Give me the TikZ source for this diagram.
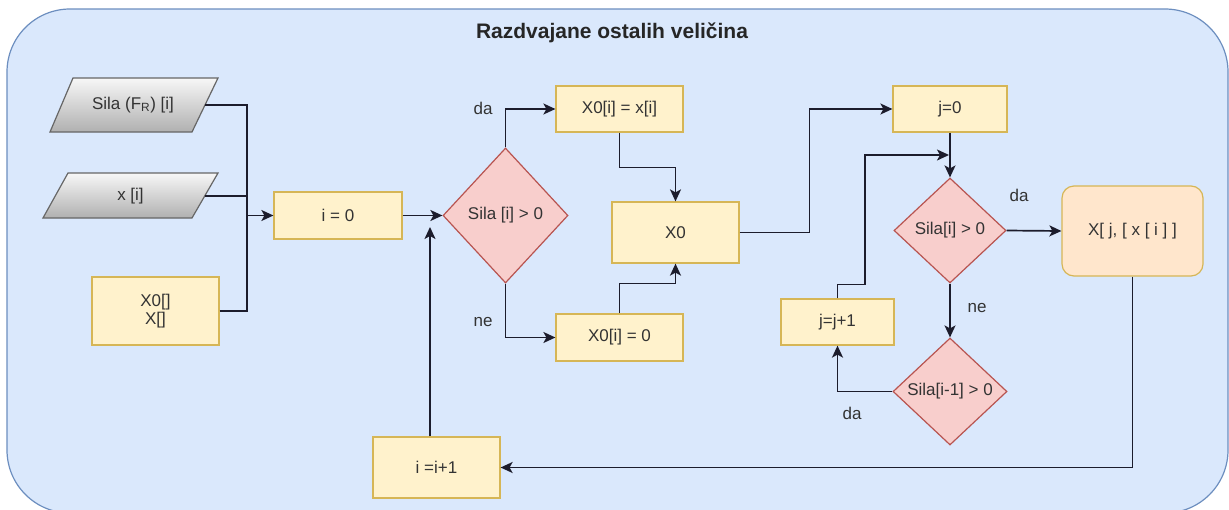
\documentclass[tikz,border=0pt]{standalone}
\usepackage{fontspec}
\setmainfont{Liberation Sans}
\usetikzlibrary{shapes.geometric,arrows.meta}
\definecolor{bg}{HTML}{DAE8FC}
\definecolor{bgline}{HTML}{6C8EBF}
\definecolor{yfill}{HTML}{FFF2CC}
\definecolor{yline}{HTML}{D6B656}
\definecolor{ofill}{HTML}{FFE6CC}
\definecolor{rfill}{HTML}{F8CECC}
\definecolor{rline}{HTML}{B85450}
\definecolor{gtop}{HTML}{F7F7F7}
\definecolor{gbot}{HTML}{B0B0B0}
\definecolor{gline}{HTML}{666666}
\definecolor{ink}{HTML}{333333}
\definecolor{edgec}{HTML}{1C1C2C}
\begin{document}
\begin{tikzpicture}[x=1pt,y=-1pt,
  font=\fontsize{17}{20}\selectfont, text=ink,
  box/.style={draw=yline, fill=yfill, line width=1.2pt, inner sep=2pt, align=center},
  obox/.style={draw=yline, fill=ofill, line width=1.2pt, rounded corners=12pt, inner sep=2pt},
  cond/.style={diamond, draw=rline, fill=rfill, line width=1.2pt, inner sep=0pt},
  para/.style={draw=gline, top color=gtop, bottom color=gbot, line width=1.2pt},
  plain/.style={inner sep=0pt},
  conn/.style={draw=edgec, line width=1.7pt},
  arr/.style={conn, -{Stealth[length=12pt,width=11pt,inset=3pt]}},
  lbl/.style={text=ink}]
\useasboundingbox (0,0) rectangle (1229,509);
% container
\draw[draw=bgline, fill=bg, line width=1.2pt, rounded corners=63pt] (7,9) rectangle (1228,513);
\node[font=\bfseries\fontsize{21}{25}\selectfont, text=black!85] (title) at (612,33) {Razdvajane ostalih veličina};
% inputs
\path[para] (73,78) -- (218,78) -- (192,132) -- (50,132) -- cycle;
\node[plain, minimum width=144pt, minimum height=54pt] (sila) at (133,105) {Sila (F\textsubscript{R}) [i]};
\path[para] (68,173) -- (218,173) -- (192,218) -- (43,218) -- cycle;
\node[plain, minimum width=149pt, minimum height=45pt] (xi) at (130.5,196) {x [i]};
\node[box, minimum width=127pt, minimum height=68pt] (arrs) at (155.5,311) {X0[]\\[-2pt]X[]};
% main boxes
\node[box, minimum width=128pt, minimum height=47pt] (i0) at (338,215.5) {i = 0};
\node[cond, minimum width=125pt, minimum height=135pt] (d1) at (505.5,215.5) {Sila [i] > 0};
\node[box, minimum width=127pt, minimum height=46pt] (b1) at (619.5,109) {X0[i] = x[i]};
\node[box, minimum width=127pt, minimum height=47pt] (b2) at (619.5,337.5) {X0[i] = 0};
\node[box, minimum width=127pt, minimum height=61pt] (x0) at (675.5,232.5) {X0};
\node[box, minimum width=114pt, minimum height=46pt] (j0) at (950,109) {j=0};
\node[cond, minimum width=112pt, minimum height=105pt] (d2) at (950,230.5) {Sila[i] > 0};
\node[obox, minimum width=141pt, minimum height=90pt] (xb) at (1132.5,231) {X[ j, [ x [ i ] ]};
\node[cond, minimum width=114pt, minimum height=107pt] (d3) at (950,391.5) {Sila[i-1] > 0};
\node[box, minimum width=113pt, minimum height=46pt] (jj) at (837.5,322) {j=j+1};
\node[box, minimum width=127pt, minimum height=61pt] (ii) at (436.5,467.5) {i =i+1};
% helper coordinates
\coordinate (m) at (247,215.5);
\coordinate (jn) at (949,155);
\coordinate (up) at (430,227);
% connectors
\draw[conn] (sila.east) -| (m);
\draw[conn] (xi.east) -| (m);
\draw[conn] (arrs.east) -| (m);
\draw[arr] (m) -- (i0.west);
\draw[arr] (i0.east) -- (d1.west);
\draw[arr] (d1.north) |- (b1.west);
\draw[arr] (d1.south) |- (b2.west);
\draw[arr] (b1.south) -- ++(0,35) -| (x0.north);
\draw[arr] (b2.north) -- ++(0,-30) -| (x0.south);
\draw[arr] (x0.east) -- ++(70,0) |- (j0.west);
\draw[arr] (j0.south) -- (d2.north);
\draw[arr] (d2.east) -- (xb.west);
\draw[arr] (d2.south) -- (d3.north);
\draw[arr] (d3.west) -| (jj.south);
\draw[arr] (jj.north) -- ++(0,-14) -- ++(27.5,0) |- (jn);
\draw[arr] (xb.south) |- (ii.east);
\draw[arr] (ii.north -| up) -- (up);
% labels
\node[lbl] (l1) at (483,108) {da};
\node[lbl] (l2) at (483,322) {ne};
\node[lbl] (l3) at (1019,195) {da};
\node[lbl] (l4) at (977,308) {ne};
\node[lbl] (l5) at (852,413) {da};
\end{tikzpicture}
\end{document}
